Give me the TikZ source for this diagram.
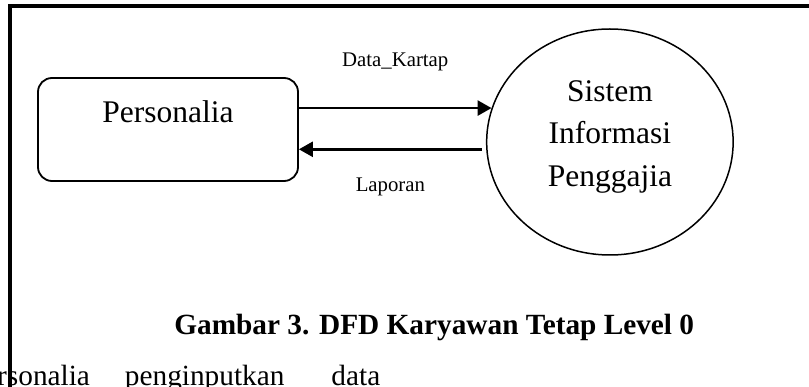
\documentclass[tikz,border=0pt]{standalone}
\usepackage{fontspec}
\setmainfont{Liberation Serif}
\usetikzlibrary{shapes.geometric, arrows.meta, positioning}

\begin{document}
\begin{tikzpicture}[
        x=1pt, y=1pt,
        >={Triangle[length=14pt, width=15pt]},
        entity/.style={draw, rectangle, rounded corners=14pt, line width=1.8pt, minimum width=260pt, minimum height=103pt, font=\fontsize{31.5}{36}\selectfont, text depth=35pt},
        process/.style={draw, ellipse, line width=1.5pt, minimum width=246.5pt, minimum height=226pt, align=center, font=\fontsize{31.5}{42.5}\selectfont, text depth=17pt},
        flow/.style={->, line width=2.6pt},
        flowlabel/.style={anchor=base, inner sep=0pt, font=\fontsize{20.8}{25}\selectfont}
    ]
        \useasboundingbox (0,0) rectangle (809,-387);

        % Nodes
        \node [entity] (personalia) at (168,-129.5) {Personalia};
        \node [process, right=187pt of personalia, yshift=-12.5pt] (sistem) {Sistem\\Informasi\\Penggajia};
        \coordinate (laporanstart) at ([shift={(-4pt,-7.3pt)}]sistem.west);

        % Flows
        \draw [flow] (personalia.east |- sistem.164) -- node[flowlabel, yshift=41.3pt] {Data\_Kartap} (sistem.164);
        \draw [flow] (laporanstart) -- node[flowlabel, yshift=-42.2pt] {Laporan} (laporanstart -| personalia.east);

        % Caption
        \node [anchor=base, inner sep=0pt, font=\bfseries\fontsize{29.3}{35}\selectfont] (caption) at (434.2,-335) {Gambar 3. DFD Karyawan Tetap Level 0};
        \node [anchor=base west, inner sep=0pt, font=\fontsize{29.3}{35}\selectfont] (bodytext) at (-3,-385) {rsonalia\hspace{35pt}penginputkan\hspace{47pt}data};

        % Frame
        \draw [line width=4pt] (10,-395) -- (10,-6) -- (815,-6);
\end{tikzpicture}
\end{document}
